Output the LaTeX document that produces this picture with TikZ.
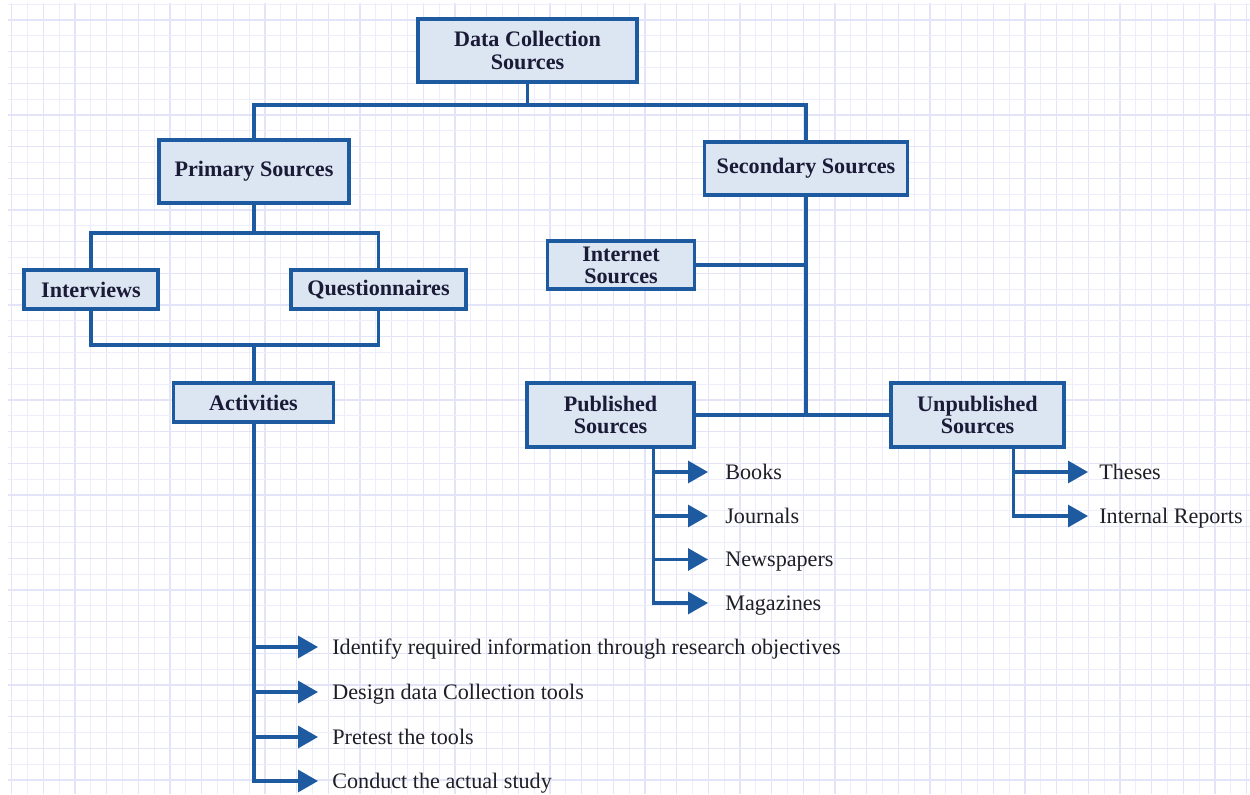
\documentclass[tikz,border=0pt]{standalone}
\usepackage{fontspec}
\setmainfont{Liberation Serif}
\usetikzlibrary{arrows.meta,calc}

\definecolor{linkblue}{HTML}{1E5AA0}
\definecolor{boxfill}{HTML}{DCE6F2}
\definecolor{boxtext}{HTML}{1B1B38}
\definecolor{leaftext}{HTML}{1E1E26}
\definecolor{gridmajor}{HTML}{E4E4F9}
\definecolor{gridminor}{HTML}{EDEDFB}

\tikzset{
  box/.style={draw=linkblue, line width=2pt, fill=boxfill, rectangle,
    inner sep=0pt, align=center, text=boxtext,
    font=\fontsize{12.6}{12.6}\selectfont\bfseries},
  leaf/.style={anchor=west, inner sep=0pt, text height=8.4pt, text depth=0pt,
    text=leaftext, font=\fontsize{12.6}{14}\selectfont},
  link/.style={draw=linkblue, line width=1.8pt},
  arrowlink/.style={link, -{Triangle[length=0.4cm,width=0.44cm]}},
}

\begin{document}
\begin{tikzpicture}[x=0.02cm, y=-0.02cm]
  % page and squared paper
  \useasboundingbox (0,0) rectangle (1250,794);
  \fill[white] (0,0) rectangle (1250,794);
  \foreach \i in {0,...,78} {
    \pgfmathsetmacro{\gx}{11.7+15.833*\i}
    \ifodd\i
      \draw[gridminor, line width=0.7pt] (\gx,3) -- (\gx,794);
    \else
      \draw[gridmajor, line width=0.8pt] (\gx,3) -- (\gx,794);
    \fi
  }
  \foreach \i in {0,...,49} {
    \pgfmathsetmacro{\gy}{4.17+15.833*\i}
    \ifodd\i
      \draw[gridmajor, line width=0.8pt] (8,\gy) -- (1250,\gy);
    \else
      \draw[gridminor, line width=0.7pt] (8,\gy) -- (1250,\gy);
    \fi
  }

  % boxes
  \node[box, minimum width=4.38cm, minimum height=1.26cm] (dcs)   at (527.5,50.5) {Data Collection\\Sources};
  \node[box, minimum width=3.80cm, minimum height=1.26cm] (prim)  at (254,171.5)  {Primary Sources};
  \node[box, minimum width=4.06cm, minimum height=1.06cm] (sec)   at (806,168.5)  {Secondary Sources};
  \node[box, minimum width=2.68cm, minimum height=0.78cm] (intv)  at (91,289.5)   {Interviews};
  \node[box, minimum width=3.50cm, minimum height=0.78cm] (quest) at (378.5,289.5){Questionnaires};
  \node[box, minimum width=3.20cm, minimum height=0.78cm] (act)   at (253.5,402.5){Activities};
  \node[box, minimum width=2.94cm, minimum height=0.96cm] (inet)  at (621,265)    {Internet\\Sources};
  \node[box, minimum width=3.34cm, minimum height=1.28cm] (pub)   at (610.5,415)  {Published\\Sources};
  \node[box, minimum width=3.46cm, minimum height=1.28cm] (unpub) at (977.5,415)  {Unpublished\\Sources};

  % leaf labels
  \node[leaf] (books) at (725,472)   {Books};
  \node[leaf] (journ) at (725,516)   {Journals};
  \node[leaf] (news)  at (725,559.5) {Newspapers};
  \node[leaf] (mags)  at (725,603)   {Magazines};
  \node[leaf] (thes)  at (1099,472)  {Theses};
  \node[leaf] (intr)  at (1099,516)  {Internal Reports};
  \node[leaf] (act1)  at (332,647)   {Identify required information through research objectives};
  \node[leaf] (act2)  at (332,692)   {Design data Collection tools};
  \node[leaf] (act3)  at (332,737)   {Pretest the tools};
  \node[leaf] (act4)  at (332,781)   {Conduct the actual study};

  % junction points
  \coordinate (j1) at (527.5,105);
  \coordinate (j2) at (254,233);
  \coordinate (j3) at (254,345);

  % top level split
  \draw[link] (dcs.south) -- (j1);
  \draw[link] (prim.north) |- (j1) -| (sec.north);

  % primary sources
  \draw[link] (prim.south) -- (j2);
  \draw[link] (intv.north) |- (j2) -| (quest.north);
  \draw[link] (intv.south) |- (j3) -| (quest.south);
  \draw[link] (j3) -- (j3 |- act.north);

  % activities
  \draw[arrowlink, shorten >=0.28cm] (act.south -| j3) |- (act4);
  \foreach \n in {act1,act2,act3}
    \draw[arrowlink, shorten >=0.28cm] (j3 |- \n) -- (\n);

  % secondary sources
  \draw[link] (pub.east) -| (sec.south);
  \draw[link] (pub.east) -- (unpub.west);
  \draw[link] (inet.east) -- (inet.east -| sec.south);

  % published sources
  \coordinate (pt) at ($(pub.south west)!0.75!(pub.south east)$);
  \draw[arrowlink, shorten >=0.34cm] (pt) |- (mags);
  \foreach \n in {books,journ,news}
    \draw[arrowlink, shorten >=0.34cm] (pt |- \n) -- (\n);

  % unpublished sources
  \coordinate (ut) at ($(unpub.south west)!0.705!(unpub.south east)$);
  \draw[arrowlink, shorten >=0.22cm] (ut) |- (intr);
  \draw[arrowlink, shorten >=0.22cm] (ut |- thes) -- (thes);
\end{tikzpicture}
\end{document}
